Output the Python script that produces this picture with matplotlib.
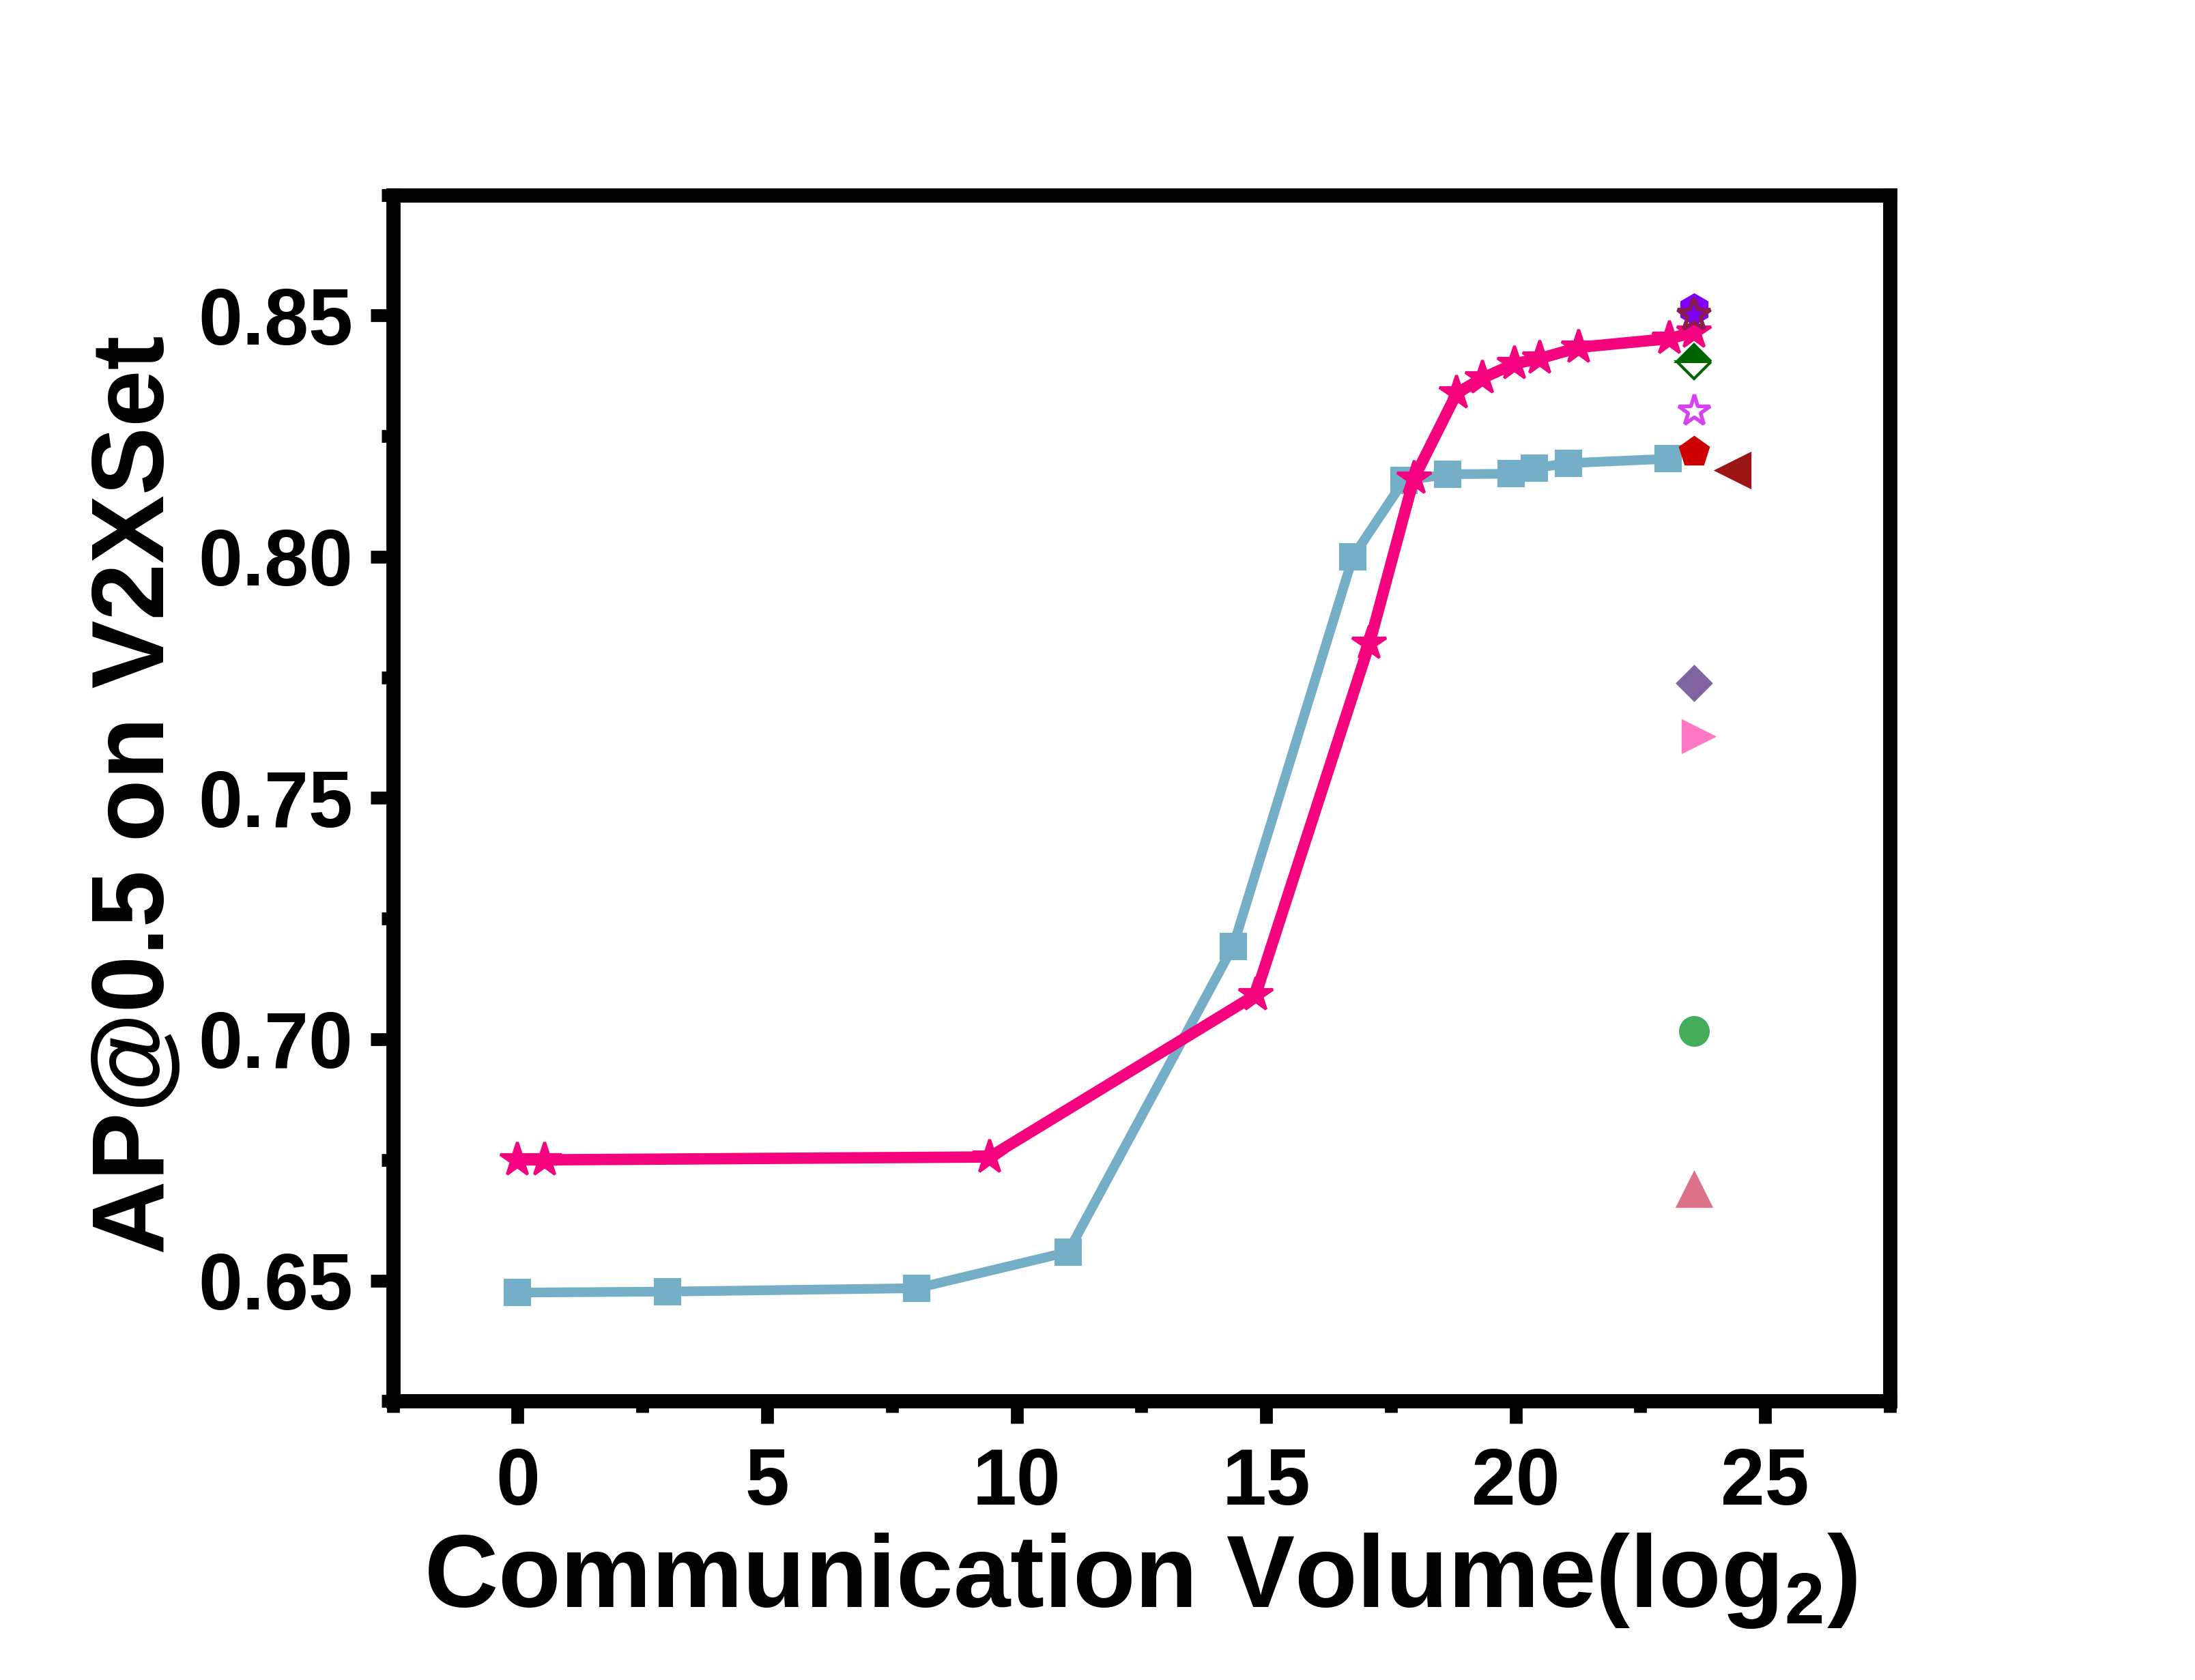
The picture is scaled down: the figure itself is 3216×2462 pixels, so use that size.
import matplotlib
matplotlib.use("Agg")
import matplotlib.pyplot as plt

plt.rcParams['font.family'] = ['Liberation Sans', 'DejaVu Sans']
plt.rcParams['font.weight'] = 'bold'
plt.rcParams['mathtext.fontset'] = 'custom'
plt.rcParams['mathtext.rm'] = 'Liberation Sans:bold'
plt.rcParams['mathtext.bf'] = 'Liberation Sans:bold'
plt.rcParams['mathtext.default'] = 'bf'

# ---- data ----
blue_x = [0, 3, 8, 11.03, 14.34, 16.74, 17.76, 18.64, 19.91, 20.38, 21.06, 23.06]
blue_y = [0.6475, 0.6477, 0.6484, 0.6559, 0.7193, 0.8000, 0.8158, 0.8171, 0.8172, 0.8184, 0.8194, 0.8203]

pink_x = [0, 0.54, 9.46, 14.79, 17.07, 17.96, 18.82, 19.33, 19.98, 20.49, 21.27, 23.08, 23.57]
pink_y = [0.6750, 0.6750, 0.6756, 0.7092, 0.7820, 0.8162, 0.8339, 0.8370, 0.8400, 0.8411, 0.8434, 0.8452, 0.8465]

# single methods
single_x = [23.58, 23.58, 23.58, 23.58, 23.58, 24.36, 23.58, 23.66, 23.58, 23.58]
single_y = [0.8513, 0.8500, 0.8404, 0.8302, 0.8217, 0.8179, 0.7738, 0.7628, 0.7017, 0.6689]
single_marker = ['h', '*', 'D', '*', 'p', '<', 'D', '>', 'o', '^']
single_face = ['#8000FF', 'none', '#006400', 'none', '#CC0000', '#9B1515', '#8064A2', '#FF78C4', '#44AD5C', '#DD738A']
single_edge = ['#8000FF', '#8C1C4C', '#006400', '#DA3FF8', '#CC0000', '#9B1515', '#8064A2', '#FF78C4', '#44AD5C', '#DD738A']
single_size = [10.5, 12, 8.5, 11.5, 10.5, 12, 8.5, 11, 10, 12]
single_fill = ['full', 'none', 'top', 'none', 'full', 'full', 'full', 'full', 'full', 'full']
single_mew = [0.8, 1.4, 1.0, 1.3, 0.8, 0.8, 0.8, 0.8, 0.8, 0.8]

x_ticks = [0, 5, 10, 15, 20, 25]
y_ticks = [0.65, 0.70, 0.75, 0.80, 0.85]
y_tick_labels = ['0.65', '0.70', '0.75', '0.80', '0.85']

fig = plt.figure(figsize=(10.72, 8.2067), dpi=300)
ax = fig.add_axes([0.179, 0.166, 0.682, 0.718])

ax.plot(blue_x, blue_y, color='#75AEC7', lw=3.4, marker='s', ms=8.5, mew=1,
        mfc='#75AEC7', mec='#75AEC7', zorder=3)
ax.plot(pink_x, pink_y, color='#F5037F', lw=4, marker='*', ms=12.5, mew=1,
        mfc='#F5037F', mec='#F5037F', zorder=4)

for i in range(len(single_x)):
    if single_fill[i] == 'none':
        ax.plot(single_x[i], single_y[i], linestyle='none', marker=single_marker[i],
                ms=single_size[i], mfc='none', mec=single_edge[i], mew=single_mew[i], zorder=5)
    elif single_fill[i] == 'top':
        ax.plot(single_x[i], single_y[i], linestyle='none', marker=single_marker[i],
                ms=single_size[i], fillstyle='top', mfc=single_face[i], mfcalt='white',
                mec=single_edge[i], mew=single_mew[i], zorder=5)
    else:
        ax.plot(single_x[i], single_y[i], linestyle='none', marker=single_marker[i],
                ms=single_size[i], mfc=single_face[i], mec=single_edge[i],
                mew=single_mew[i], zorder=5)

ax.set_xlim(-2.5, 27.5)
ax.set_ylim(0.625, 0.875)
ax.set_xticks(x_ticks)
ax.set_xticks([-2.5, 2.5, 7.5, 12.5, 17.5, 22.5, 27.5], minor=True)
ax.set_yticks(y_ticks)
ax.set_yticklabels(y_tick_labels)
ax.set_yticks([0.625, 0.675, 0.725, 0.775, 0.825, 0.875], minor=True)

for s in ax.spines.values():
    s.set_linewidth(5)
    s.set_capstyle('projecting')

ax.tick_params(axis='both', which='major', direction='out', length=8, width=4.5,
               labelsize=28, top=False, right=False)
ax.tick_params(axis='both', which='minor', direction='out', length=4, width=4.5,
               top=False, right=False)
ax.tick_params(axis='x', which='major', pad=8)
ax.tick_params(axis='y', which='major', pad=6)
for lab in ax.get_xticklabels() + ax.get_yticklabels():
    lab.set_fontweight('bold')

fig.text(0.5197, 0.0435, r'Communication Volume(log$_{2}$)', ha='center', va='baseline',
         fontsize=36, fontweight='bold')
fig.text(0.0625, 0.527, 'AP@0.5 on V2XSet', ha='center', va='center', rotation=90,
         fontsize=36, fontweight='bold')

fig.savefig('out.png', dpi=300)
